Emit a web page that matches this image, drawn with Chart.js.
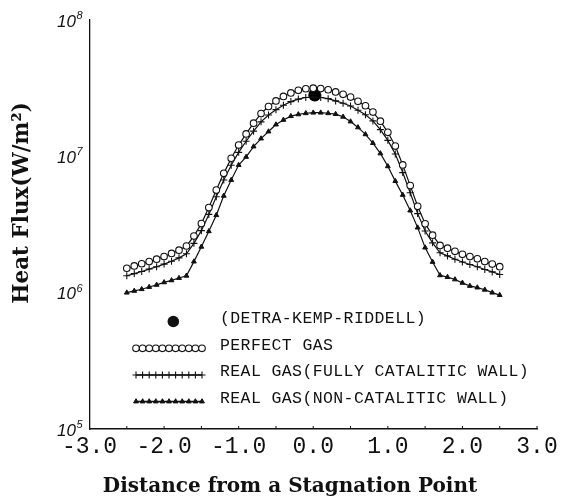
<!DOCTYPE html>
<html>
<head>
<meta charset="utf-8">
<script src="https://cdn.jsdelivr.net/npm/chart.js@4.4.0/dist/chart.umd.min.js"></script>
<style>
  html, body { margin: 0; padding: 0; background: #fff; }
  #wrap { width: 563px; height: 501px; }
</style>
</head>
<body>
<div id="wrap"><canvas id="myChart" width="563" height="501"></canvas></div>
<script>
// distance from the stagnation point
const distance = [-2.5, -2.4, -2.3, -2.2, -2.1, -2.0, -1.9, -1.8, -1.7, -1.6, -1.5, -1.4, -1.3,
  -1.2, -1.1, -1.0, -0.9, -0.8, -0.7, -0.6, -0.5, -0.4, -0.3, -0.2, -0.1, 0.0,
  0.1, 0.2, 0.3, 0.4, 0.5, 0.6, 0.7, 0.8, 0.9, 1.0, 1.1, 1.2, 1.3, 1.4, 1.5,
  1.6, 1.7, 1.8, 1.9, 2.0, 2.1, 2.2, 2.3, 2.4, 2.5]

// heat flux, W/m2
const perfectGas = [1.51e6, 1.57e6, 1.63e6, 1.69e6, 1.76e6, 1.84e6, 1.94e6, 2.05e6, 2.2e6, 2.6e6,
  3.21e6, 4.21e6, 5.66e6, 7.5e6, 9.68e6, 1.21e7, 1.46e7, 1.75e7, 2.06e7, 2.32e7, 2.55e7,
  2.75e7, 2.92e7, 3.05e7, 3.13e7, 3.16e7, 3.14e7, 3.08e7, 2.97e7, 2.85e7, 2.72e7, 2.53e7,
  2.35e7, 2.11e7, 1.81e7, 1.5e7, 1.19e7, 8.65e6, 6.1e6, 4.3e6, 3.2e6, 2.64e6, 2.22e6,
  2.12e6, 2.01e6, 1.91e6, 1.84e6, 1.77e6, 1.69e6, 1.62e6, 1.55e6]

const fullyCatalytic = [1.33e6, 1.38e6, 1.43e6, 1.49e6, 1.55e6, 1.62e6, 1.7e6, 1.8e6, 1.93e6, 2.3e6,
  2.85e6, 3.75e6, 5.05e6, 6.7e6, 8.6e6, 1.07e7, 1.29e7, 1.53e7, 1.79e7, 2.01e7, 2.2e7,
  2.37e7, 2.52e7, 2.63e7, 2.7e7, 2.72e7, 2.7e7, 2.65e7, 2.55e7, 2.45e7, 2.34e7, 2.18e7,
  2.02e7, 1.82e7, 1.57e7, 1.31e7, 1.04e7, 7.6e6, 5.4e6, 3.8e6, 2.83e6, 2.32e6, 1.96e6,
  1.86e6, 1.76e6, 1.68e6, 1.61e6, 1.55e6, 1.48e6, 1.42e6, 1.36e6]

const nonCatalytic = [1.0e6, 1.03e6, 1.06e6, 1.1e6, 1.14e6, 1.19e6, 1.23e6, 1.28e6, 1.33e6, 1.69e6,
  2.17e6, 2.82e6, 3.7e6, 5.13e6, 6.7e6, 8.63e6, 9.9e6, 1.18e7, 1.35e7, 1.52e7, 1.71e7,
  1.85e7, 1.97e7, 2.03e7, 2.07e7, 2.09e7, 2.09e7, 2.07e7, 2.04e7, 1.95e7, 1.8e7, 1.63e7,
  1.45e7, 1.25e7, 1.05e7, 8.45e6, 6.58e6, 5.21e6, 4.0e6, 3.0e6, 2.14e6, 1.68e6, 1.34e6,
  1.3e6, 1.25e6, 1.18e6, 1.12e6, 1.09e6, 1.05e6, 1.0e6, 0.96e6]

// Detra-Kemp-Riddell value
const experimentX = [0.02]
const experimentY = [2.82e7]

const xTickValues = [-3, -2, -1, 0, 1, 2, 3]
const yTickValues = [1e5, 1e6, 1e7, 1e8]

const legendLabels = [
  '(DETRA-KEMP-RIDDELL)',
  'PERFECT GAS',
  'REAL GAS(FULLY CATALITIC WALL)',
  'REAL GAS(NON-CATALITIC WALL)'
]
const xTitle = 'Distance from a Stagnation Point'
const yTitle = 'Heat Flux(W/m\u00B2)'

const INK = '#111'
const toPoints = (xs, ys) => xs.map((x, i) => ({ x: x, y: ys[i] }))

// axis labels, small tick marks, titles and the legend
const decor = {
  id: 'decor',
  afterDraw(chart) {
    const { ctx, chartArea } = chart
    const xs = chart.scales.x
    const ys = chart.scales.y
    ctx.save()
    ctx.fillStyle = INK
    ctx.strokeStyle = INK

    // y labels 10^n
    yTickValues.forEach(v => {
      const py = ys.getPixelForValue(v)
      ctx.font = 'italic 17px "Liberation Sans"'
      ctx.textAlign = 'right'
      ctx.textBaseline = 'middle'
      ctx.fillText('10', 76, py + 2)
      ctx.font = 'italic 11px "Liberation Sans"'
      ctx.textAlign = 'left'
      ctx.textBaseline = 'alphabetic'
      ctx.fillText(String(Math.round(Math.log10(v))), 76.5, py - 1)
    })

    // x tick marks, pointing into the plot
    ctx.lineWidth = 1
    xs.ticks.forEach(t => {
      if (t.value <= -3) return
      const px = xs.getPixelForValue(t.value)
      ctx.beginPath()
      ctx.moveTo(px, chartArea.bottom)
      ctx.lineTo(px, chartArea.bottom - 3)
      ctx.stroke()
    })

    // titles
    ctx.font = 'bold 20px "DejaVu Serif"'
    ctx.textAlign = 'center'
    ctx.textBaseline = 'middle'
    ctx.fillText(xTitle, 290, 487)
    ctx.save()
    ctx.font = 'bold 21.5px "DejaVu Serif"'
    ctx.translate(22, 203)
    ctx.rotate(-Math.PI / 2)
    ctx.fillText(yTitle, 0, 0)
    ctx.restore()

    // legend
    const ds = chart.data.datasets
    const rows = [321.5, 348.3, 375, 401.5]
    ctx.font = '16.5px "Liberation Mono"'
    ctx.letterSpacing = '0.4px'
    ctx.textAlign = 'left'
    ctx.textBaseline = 'middle'
    legendLabels.forEach((lab, i) => ctx.fillText(lab, 220, rows[i] - 3))
    ctx.letterSpacing = '0px'

    // experimental dot
    ctx.beginPath()
    ctx.arc(173.3, rows[0], 5.8, 0, Math.PI * 2)
    ctx.fill()

    // line samples with markers
    ;[0, 1, 2].forEach(k => {
      const d = ds[k]
      const y = rows[k + 1]
      ctx.lineWidth = 1.3
      ctx.beginPath()
      ctx.moveTo(136, y)
      ctx.lineTo(202, y)
      ctx.stroke()
      for (let i = 0; i <= 10; i++) {
        ctx.fillStyle = d.pointBackgroundColor
        ctx.strokeStyle = INK
        ctx.lineWidth = d.pointBorderWidth
        Chart.helpers.drawPoint(ctx, {
          pointStyle: d.pointStyle, radius: d.pointRadius, rotation: 0, borderWidth: d.pointBorderWidth
        }, 136 + i * 6.6, y)
      }
    })
    ctx.restore()
  }
}

const ctx = document.getElementById('myChart')
new Chart(ctx, {
  type: 'scatter',
  data: {
    datasets: [
      {
        label: legendLabels[1],
        data: toPoints(distance, perfectGas),
        showLine: true,
        borderColor: INK,
        borderWidth: 1.2,
        pointStyle: 'circle',
        pointRadius: 3.3,
        pointBackgroundColor: '#fff',
        pointBorderColor: INK,
        pointBorderWidth: 1.1
      },
      {
        label: legendLabels[2],
        data: toPoints(distance, fullyCatalytic),
        showLine: true,
        borderColor: INK,
        borderWidth: 1.2,
        pointStyle: 'cross',
        pointRadius: 3.5,
        pointBackgroundColor: INK,
        pointBorderColor: INK,
        pointBorderWidth: 1.1
      },
      {
        label: legendLabels[3],
        data: toPoints(distance, nonCatalytic),
        showLine: true,
        borderColor: INK,
        borderWidth: 1.2,
        pointStyle: 'triangle',
        pointRadius: 2.8,
        pointBackgroundColor: INK,
        pointBorderColor: INK,
        pointBorderWidth: 1
      },
      {
        label: legendLabels[0],
        data: toPoints(experimentX, experimentY),
        showLine: false,
        pointStyle: 'circle',
        pointRadius: 6.5,
        pointBackgroundColor: '#000',
        pointBorderColor: '#000',
        pointBorderWidth: 0
      }
    ]
  },
  options: {
    animation: false,
    responsive: false,
    layout: { padding: { top: 20, right: 26, left: 0, bottom: 0 } },
    plugins: { legend: { display: false }, tooltip: { enabled: false } },
    scales: {
      x: {
        type: 'linear',
        min: -3,
        max: 3,
        ticks: {
          stepSize: 0.5,
          autoSkip: false,
          maxRotation: 0,
          padding: 4,
          color: INK,
          font: { family: 'Liberation Mono', size: 23 },
          callback: v => xTickValues.includes(v) ? v.toFixed(1) : ''
        },
        grid: { display: false, drawTicks: false },
        border: { display: true, color: INK, width: 1.5 },
        afterFit: s => { s.height = 72 }
      },
      y: {
        type: 'logarithmic',
        min: 1e5,
        max: 1e8,
        afterBuildTicks: s => { s.ticks = yTickValues.map(v => ({ value: v })) },
        ticks: { display: false },
        grid: { display: false, drawTicks: false },
        border: { display: true, color: INK, width: 1.3 },
        afterFit: s => { s.width = 89.5 }
      }
    }
  },
  plugins: [decor]
})
</script>
</body>
</html>
